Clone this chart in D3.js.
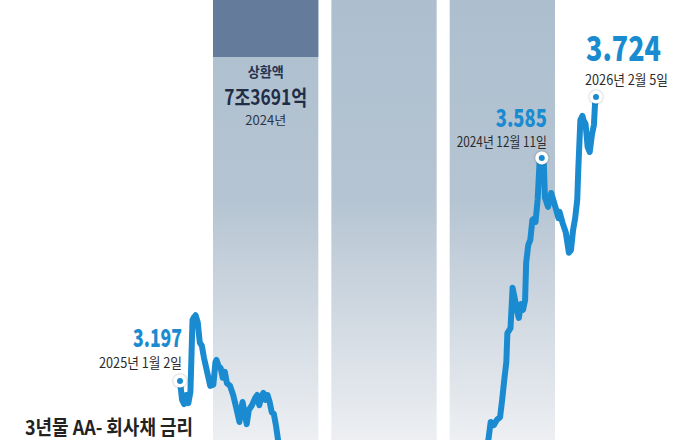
<!DOCTYPE html>
<html><head><meta charset="utf-8">
<script src="https://cdn.jsdelivr.net/npm/d3@7"></script>
<style>
html,body{margin:0;padding:0;background:#fff;}
svg{display:block;}
text{font-family:"Noto Sans CJK KR","Noto Sans",sans-serif;}
</style>
</head><body>
<svg id="c" width="686" height="440"></svg>
<script>
// ---- data ----
const startDate = "2025-01-02";
// days since start date
const days = [0,2,4,6,8,10,12,13,15,17,19,21,23,26,29,32,34,35,37,39,41,43,45,48,51,54,57,59,60,62,64,66,69,72,74,76,78,80,82,84,86,88,90,92,94,96,
  115,144,173,211,249,278,293,
  296,298,301,304,307,309,311,313,314,317,319,321,323,325,327,329,331,332,334,336,338,340,341,343,345,347,349,350,353,356,358,360,363,364,367,370,373,375,377,379,381,382,384,386,387,389,391,393,395,397,398,399];
// 3-year AA- corporate bond yield (%)
const rates = [3.197,3.162,3.154,3.171,3.156,3.177,3.310,3.314,3.319,3.306,3.268,3.262,3.240,3.214,3.188,3.190,3.232,3.236,3.225,3.221,3.203,3.214,3.193,3.188,3.171,3.147,3.121,3.147,3.158,3.139,3.117,3.143,3.152,3.165,3.171,3.152,3.167,3.175,3.162,3.171,3.158,3.139,3.136,3.115,3.088,3.060,
  2.995,2.939,2.921,2.930,2.948,2.995,3.060,
  3.091,3.121,3.115,3.125,3.130,3.162,3.199,3.232,3.286,3.295,3.370,3.351,3.329,3.314,3.340,3.329,3.347,3.416,3.449,3.459,3.496,3.499,3.492,3.533,3.607,3.611,3.598,3.538,3.520,3.546,3.533,3.520,3.499,3.511,3.490,3.473,3.435,3.440,3.477,3.499,3.533,3.589,3.681,3.689,3.681,3.674,3.631,3.622,3.653,3.672,3.709,3.724];
// highlighted points: index into series, value label, date label
const markIdx = [0, 78, 104];
const markValues = ["3.197", "3.585", "3.724"];
const markDates = ["2025년 1월 2일", "2024년 12월 11일", "2026년 2월 5일"];
// background columns (repayment amounts)
const columns = ["2024", "2025", "2026"];
const colTitle = "상환액";
const colAmount = "7조3691억";
const colYear = "2024년";
const seriesTitle = "3년물 AA- 회사채 금리";

// ---- drawing ----
const svg = d3.select("#c");
const W = 686, H = 440;

const x = d3.scaleLinear().domain([0, 399]).range([180, 596]);
const y = d3.scaleLinear().domain([3.197, 3.724]).range([381, 97]);
const band = d3.scaleBand().domain(columns).range([213, 555]).paddingInner(0.11).paddingOuter(0);

const defs = svg.append("defs");
const g = defs.append("linearGradient").attr("id","colGrad").attr("x1",0).attr("y1",0).attr("x2",0).attr("y2",1);
g.append("stop").attr("offset","0%").attr("stop-color","#adbfcf");
g.append("stop").attr("offset","45%").attr("stop-color","#b5c4d2");
g.append("stop").attr("offset","100%").attr("stop-color","#edeff2");
const f = defs.append("filter").attr("id","sh").attr("x","-50%").attr("y","-50%").attr("width","200%").attr("height","200%");
f.append("feDropShadow").attr("dx",0).attr("dy",0).attr("stdDeviation",1.3).attr("flood-color","#000").attr("flood-opacity",0.45);
defs.append("clipPath").attr("id","clip").append("rect").attr("width",W).attr("height",H);

svg.append("g").selectAll("rect").data(columns).join("rect")
  .attr("x", d => band(d)).attr("y", 0)
  .attr("width", band.bandwidth()).attr("height", H)
  .attr("fill", "url(#colGrad)");
svg.append("rect")
  .attr("x", band(columns[0])).attr("y", 0)
  .attr("width", band.bandwidth()).attr("height", 57)
  .attr("fill", "#657b9c");

const cx = band(columns[0]) + band.bandwidth()/2;
svg.append("text").attr("x", cx).attr("y", 76.5).attr("text-anchor","middle")
  .attr("font-size",13.5).attr("font-weight",700).attr("fill","#25344f")
  .attr("textLength",36).attr("lengthAdjust","spacingAndGlyphs").text(colTitle);
svg.append("text").attr("x", cx).attr("y", 105).attr("text-anchor","middle")
  .attr("font-size",21).attr("font-weight",700).attr("fill","#1f2d47")
  .attr("textLength",83).attr("lengthAdjust","spacingAndGlyphs").text(colAmount);
svg.append("text").attr("x", cx).attr("y", 124.5).attr("text-anchor","middle")
  .attr("font-size",12.5).attr("fill","#2a3548")
  .attr("textLength",41).attr("lengthAdjust","spacingAndGlyphs").text(colYear);

const pts = days.map((d,i) => ({d, v: rates[i]}));
const line = d3.line().x(p => x(p.d)).y(p => y(p.v)).curve(d3.curveLinear);
svg.append("path").datum(pts).attr("clip-path","url(#clip)")
  .attr("d", line).attr("fill","none").attr("stroke","#1a8bd0")
  .attr("stroke-width",6).attr("stroke-linejoin","round").attr("stroke-linecap","round");

// markers
const off = [
  {vx:2, vy:-34, dy:-13, anchor:"end", vs:25, vw:49, dw:83},
  {vx:5, vy:-31, dy:-11, anchor:"end", vs:24, vw:51, dw:90},
  {vx:-10, vy:-36, dy:-12, anchor:"start", vs:34, vw:75, dw:83}
];
markIdx.forEach((mi, k) => {
  const px = x(days[mi]), py = y(rates[mi]), o = off[k];
  svg.append("circle").attr("cx",px).attr("cy",py).attr("r",6.5).attr("fill","#fff").attr("filter","url(#sh)");
  svg.append("circle").attr("cx",px).attr("cy",py).attr("r",3).attr("fill","#1a8bd0");
  svg.append("text").attr("x", px + o.vx).attr("y", py + o.vy).attr("text-anchor", o.anchor)
    .attr("font-size", o.vs).attr("font-weight",900).attr("fill","#1a8bd0")
    .attr("textLength", o.vw).attr("lengthAdjust","spacingAndGlyphs").text(markValues[k]);
  svg.append("text").attr("x", px + o.vx + (k===2?-1:0)).attr("y", py + o.dy).attr("text-anchor", o.anchor)
    .attr("font-size",14).attr("fill","#2b2b2b")
    .attr("textLength", o.dw).attr("lengthAdjust","spacingAndGlyphs").text(markDates[k]);
});

svg.append("text").attr("x",25).attr("y",435).attr("font-size",20).attr("font-weight",700)
  .attr("fill","#222").attr("textLength",168).attr("lengthAdjust","spacingAndGlyphs").text(seriesTitle);
</script>
</body></html>
